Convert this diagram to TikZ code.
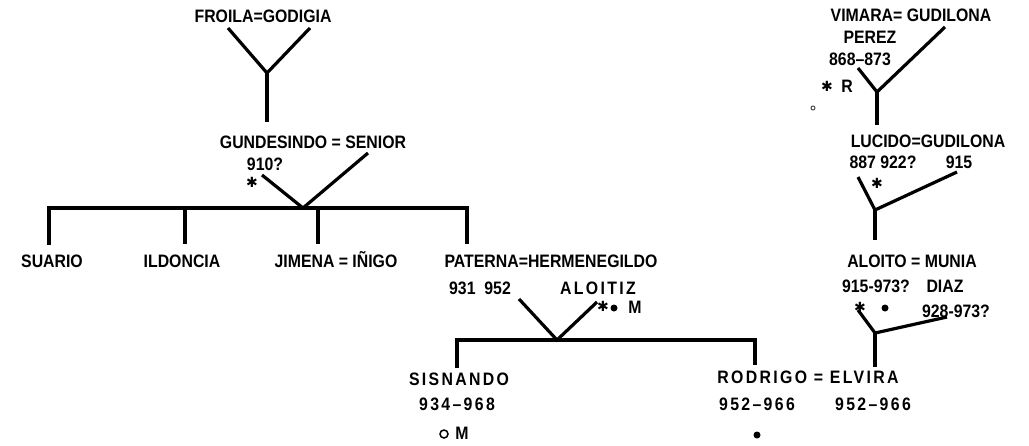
\documentclass[tikz,border=0pt]{standalone}
\usepackage{fontspec}
\setmainfont{Liberation Sans}[FakeStretch=0.88]
\newfontfamily\spacedfont{Liberation Sans}[FakeStretch=0.88,LetterSpace=13]
\newfontfamily\symfont{DejaVu Sans}
\begin{document}
\begin{tikzpicture}[x=1pt,y=-1pt,
  lbl/.style={font=\bfseries\fontsize{18}{20}\selectfont, inner sep=0pt, anchor=base},
  slbl/.style={font=\spacedfont\bfseries\fontsize{18}{20}\selectfont, inner sep=0pt, anchor=base},
  starmark/.style={font=\symfont\bfseries\fontsize{14}{14}\selectfont, inner sep=0pt, anchor=center},
  dotmark/.style={circle, fill=black, inner sep=0pt, minimum size=7pt},
  ringmark/.style={circle, draw=black, line width=1.5pt, inner sep=0pt, minimum size=8pt},
  tree/.style={line width=3.2pt, line join=miter},
]
\useasboundingbox (0,0) rectangle (1029,445);

% ---- texts ----
\node[lbl] (froila) at (263,22) {FROILA=GODIGIA};
\node[lbl] (gund) at (313,148) {GUNDESINDO = SENIOR};
\node[lbl] (gundd) at (265,170) {910?};
\node[starmark] (s1) at (252,182) {✱};
\node[lbl] (suario) at (52,267) {SUARIO};
\node[lbl] (ildon) at (182,267) {ILDONCIA};
\node[lbl] (jimena) at (336,267) {JIMENA = IÑIGO};
\node[lbl] (paterna) at (551,267) {PATERNA=HERMENEGILDO};
\node[lbl] (patd) at (480,294) {931\ \ 952};
\node[slbl] (aloitiz) at (598,294) {ALOITIZ};
\node[starmark] (s2) at (603,306) {✱};
\node[dotmark] (d1) at (614,308) {};
\node[lbl] (m1) at (635,313) {M};
\node[slbl] (sisn) at (459,385) {SISNANDO};
\node[slbl] (sisnd) at (457,410) {934–968};
\node[ringmark] (o1) at (444,434) {};
\node[lbl] (m2) at (462,439) {M};
\node[slbl] (rodrigo) at (808,383) {RODRIGO = ELVIRA};
\node[slbl] (rodd) at (757,410) {952–966};
\node[slbl] (elvd) at (873,410) {952–966};
\node[dotmark] (d2) at (757,435) {};

\node[lbl] (vimara) at (911,21) {VIMARA= GUDILONA};
\node[lbl] (perez) at (870,43) {PEREZ};
\node[lbl] (vimd) at (860,65) {868–873};
\node[starmark] (s3) at (827,86) {✱};
\node[lbl] (r1) at (847,92) {R};
\node[circle, draw=black!70, line width=1pt, inner sep=0pt, minimum size=4pt] (smudge) at (813,108) {};
\node[lbl] (lucido) at (928,147) {LUCIDO=GUDILONA};
\node[lbl] (lucd) at (883,168) {887 922?};
\node[lbl] (gud2d) at (959,168) {915};
\node[starmark] (s4) at (877,183) {✱};
\node[lbl] (aloito) at (912,267) {ALOITO = MUNIA};
\node[lbl] (alod) at (876,292) {915-973?};
\node[lbl] (diaz) at (945,292) {DIAZ};
\node[starmark] (s5) at (860,307) {✱};
\node[dotmark] (d3) at (885,308) {};
\node[lbl] (munid) at (956,317) {928-973?};

% ---- junction coordinates ----
\coordinate (fa) at (228,28); \coordinate (fb) at (310,28);
\coordinate (fj) at (267,73); \coordinate (fs) at (267,122);
\coordinate (ga) at (262,175); \coordinate (gb) at (368,153);
\coordinate (gj) at (303,208);
\coordinate (c1) at (49,208); \coordinate (c1b) at (49,245);
\coordinate (c2) at (185,208); \coordinate (c2b) at (185,244);
\coordinate (c3) at (318,208); \coordinate (c3b) at (318,244);
\coordinate (c4) at (467,208); \coordinate (c4b) at (467,244);
\coordinate (pa) at (519,299); \coordinate (pb) at (597,302);
\coordinate (pj) at (557,340);
\coordinate (k1) at (457,340); \coordinate (k1b) at (457,368);
\coordinate (k2) at (755,340); \coordinate (k2b) at (755,365);
\coordinate (va) at (858,68); \coordinate (vb) at (945,27);
\coordinate (vj) at (877,92); \coordinate (vs) at (877,125);
\coordinate (la) at (858,177); \coordinate (lb) at (957,172);
\coordinate (lj) at (875,210); \coordinate (ls) at (875,240);
\coordinate (aa) at (858,310); \coordinate (ab) at (947,317);
\coordinate (aj) at (875,333); \coordinate (as) at (875,367);

% ---- connectors ----
\draw[tree] (fa) -- (fj) -- (fb);
\draw[tree] (fj) -- (fs);
\draw[tree] (ga) -- (gj) -- (gb);
\draw[tree] (c1b) -- (c1) -- (c4) -- (c4b);
\draw[tree] (c2) -- (c2b);
\draw[tree] (c3) -- (c3b);
\draw[tree] (pa) -- (pj) -- (pb);
\draw[tree] (k1b) -- (k1) -- (k2) -- (k2b);
\draw[tree] (va) -- (vj) -- (vb);
\draw[tree] (vj) -- (vs);
\draw[tree] (la) -- (lj) -- (lb);
\draw[tree] (lj) -- (ls);
\draw[tree] (aa) -- (aj) -- (ab);
\draw[tree] (aj) -- (as);
\end{tikzpicture}
\end{document}
